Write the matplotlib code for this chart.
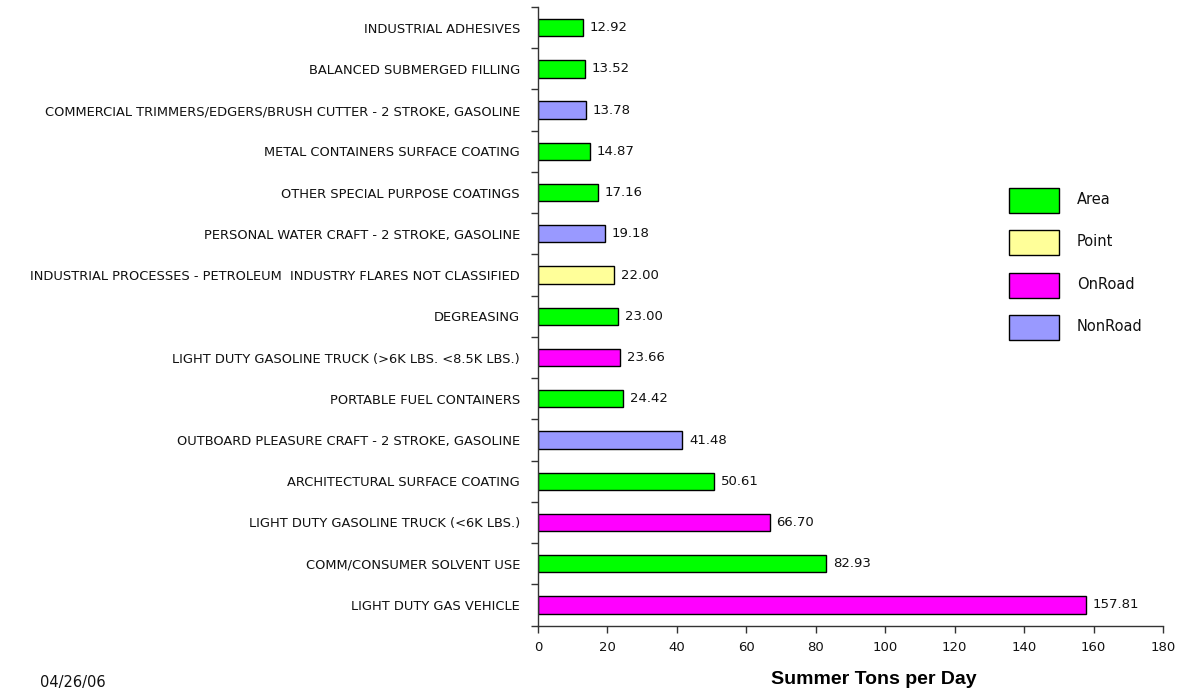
import matplotlib
matplotlib.use("Agg")
import matplotlib.pyplot as plt
from matplotlib.patches import Rectangle

plt.rcParams['font.family'] = ['DejaVu Sans']

# Data (bottom to top)
categories = [
    "LIGHT DUTY GAS VEHICLE",
    "COMM/CONSUMER SOLVENT USE",
    "LIGHT DUTY GASOLINE TRUCK (<6K LBS.)",
    "ARCHITECTURAL SURFACE COATING",
    "OUTBOARD PLEASURE CRAFT - 2 STROKE, GASOLINE",
    "PORTABLE FUEL CONTAINERS",
    "LIGHT DUTY GASOLINE TRUCK (>6K LBS. <8.5K LBS.)",
    "DEGREASING",
    "INDUSTRIAL PROCESSES - PETROLEUM  INDUSTRY FLARES NOT CLASSIFIED",
    "PERSONAL WATER CRAFT - 2 STROKE, GASOLINE",
    "OTHER SPECIAL PURPOSE COATINGS",
    "METAL CONTAINERS SURFACE COATING",
    "COMMERCIAL TRIMMERS/EDGERS/BRUSH CUTTER - 2 STROKE, GASOLINE",
    "BALANCED SUBMERGED FILLING",
    "INDUSTRIAL ADHESIVES",
]
values = [157.81, 82.93, 66.70, 50.61, 41.48, 24.42, 23.66, 23.00, 22.00,
          19.18, 17.16, 14.87, 13.78, 13.52, 12.92]
sectors = ["OnRoad", "Area", "OnRoad", "Area", "NonRoad", "Area", "OnRoad",
           "Area", "Point", "NonRoad", "Area", "Area", "NonRoad", "Area", "Area"]
legend_order = ["Area", "Point", "OnRoad", "NonRoad"]
sector_colors = {"Area": "#00FF00", "Point": "#FFFF99",
                 "OnRoad": "#FF00FF", "NonRoad": "#9999FF"}
xticks = [0, 20, 40, 60, 80, 100, 120, 140, 160, 180]

W, H = 1185, 698
ax_top_px, ax_bot_px = 7.0, 625.6
fig = plt.figure(figsize=(W / 100, H / 100), dpi=100)
ax = fig.add_axes([538 / W, 1 - ax_bot_px / H, (1163 - 538) / W,
                   (ax_bot_px - ax_top_px) / H])

ypos = list(range(len(categories)))
ax.barh(ypos, values, height=0.42, color=[sector_colors[s] for s in sectors],
        edgecolor="black", linewidth=1.0)

for y, v in zip(ypos, values):
    ax.text(v + 2.0, y, f"{v:.2f}", va="center", ha="left", fontsize=9.5,
            color="#111111")

ax.set_xlim(0, 180)
ax.set_ylim(-0.5, 14.5)
ax.set_xticks(xticks)
ax.set_xticklabels([str(t) for t in xticks], fontsize=9.5, color="#111111")
ax.set_yticks(ypos)
ax.set_yticklabels(categories, fontsize=9.4, color="#111111")
ax.tick_params(axis="y", which="major", length=0, pad=13)
ax.set_yticks([i - 0.5 for i in range(len(categories) + 1)], minor=True)
ax.tick_params(axis="y", which="minor", length=5, direction="out", width=1,
               color="#333333")
ax.tick_params(axis="x", length=5, direction="out", width=1, pad=6,
               color="#333333")

for side in ["top", "right"]:
    ax.spines[side].set_visible(False)
for side in ["left", "bottom"]:
    ax.spines[side].set_linewidth(1.0)
    ax.spines[side].set_color("#333333")

# Legend drawn manually
for i, name in enumerate(legend_order):
    top = 188 + i * 42.3
    fig.patches.append(Rectangle((1009 / W, 1 - (top + 25) / H), 50 / W, 25 / H,
                                 transform=fig.transFigure,
                                 facecolor=sector_colors[name],
                                 edgecolor="black", linewidth=1.0))
    fig.text(1077 / W, 1 - (top + 11.5) / H, name, fontsize=10.5,
             va="center", ha="left", color="#111111")

fig.text(874 / W, 1 - 680 / H, "Summer Tons per Day", fontsize=14,
         fontweight="bold", ha="center", va="center",
         family=["Liberation Sans", "DejaVu Sans"])
fig.text(40 / W, 1 - 682.5 / H, "04/26/06", fontsize=10.5, ha="left",
         va="center", color="#111111")

fig.savefig("out.png", dpi=100)
